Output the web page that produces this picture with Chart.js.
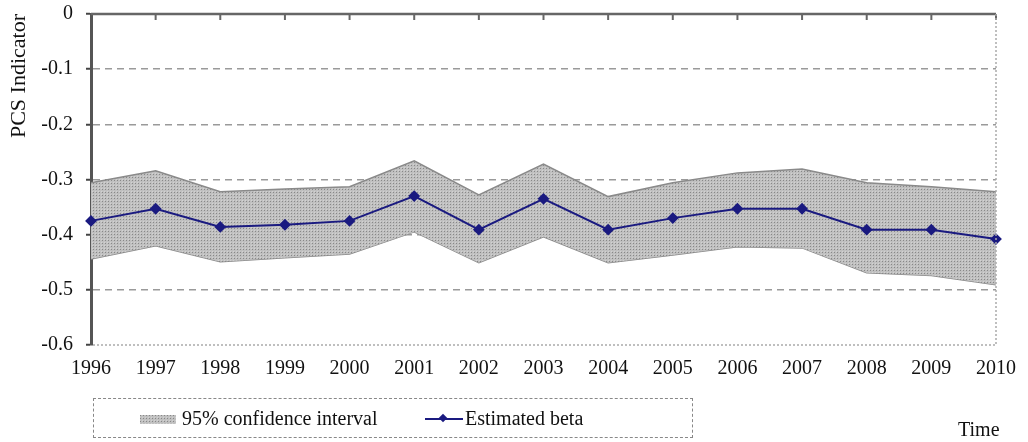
<!DOCTYPE html>
<html>
<head>
<meta charset="utf-8">
<script src="https://cdn.jsdelivr.net/npm/chart.js@4"></script>
<style>
  body { margin: 0; background: #fff; }
  #wrap { position: relative; width: 1028px; height: 442px; font-family: "Liberation Serif", "Times New Roman", serif; color: #111; }
  #grafico { position: absolute; left: 0; top: 0; }
  #legenda {
    position: absolute; left: 93px; top: 398px; width: 600px; height: 40px;
    border: 1px dashed #888; box-sizing: border-box;
    font-size: 20px; line-height: 38px;
  }
  #legenda .item { position: absolute; top: 0; white-space: nowrap; }
  #legenda .swatch { display: inline-block; width: 36px; height: 9px; vertical-align: middle; margin-right: 6px; position: relative; top: -1px; }
  #legenda .linha { display: inline-block; width: 38px; height: 2px; background: #1a1a80; vertical-align: middle; margin-right: 2px; position: relative; top: -1px; }
  #legenda .linha i { position: absolute; left: 15px; top: -3px; width: 6px; height: 6px; background: #1a1a80; transform: rotate(45deg); }
  #tempo { position: absolute; left: 958px; top: 418px; font-size: 20px; }
</style>
</head>
<body>
<div id="wrap">
  <canvas id="grafico" width="1028" height="442"></canvas>
  <div id="legenda">
    <div class="item" style="left:46px"><span class="swatch" id="swatch"></span>95% confidence interval</div>
    <div class="item" style="left:331px"><span class="linha"><i></i></span>Estimated beta</div>
  </div>
  <div id="tempo">Time</div>
</div>
<script>
// Dados
const anos = ["1996", "1997", "1998", "1999", "2000", "2001", "2002", "2003", "2004", "2005", "2006", "2007", "2008", "2009", "2010"];
const betaEstimado = [-0.375, -0.353, -0.386, -0.382, -0.375, -0.330, -0.391, -0.335, -0.391, -0.370, -0.353, -0.353, -0.391, -0.391, -0.408];
const limiteSuperior = [-0.306, -0.284, -0.322, -0.317, -0.313, -0.266, -0.328, -0.272, -0.331, -0.306, -0.288, -0.281, -0.306, -0.313, -0.322];
const limiteInferior = [-0.444, -0.420, -0.449, -0.442, -0.435, -0.395, -0.451, -0.404, -0.451, -0.437, -0.422, -0.424, -0.469, -0.474, -0.491];
const ticksY = [0, -0.1, -0.2, -0.3, -0.4, -0.5, -0.6];

// Padrão pontilhado da faixa de confiança
function criarPadrao() {
  const c = document.createElement("canvas");
  c.width = 3;
  c.height = 3;
  const g = c.getContext("2d");
  g.fillStyle = "#c0c0c0";
  g.fillRect(0, 0, 3, 3);
  g.fillStyle = "#888888";
  g.fillRect(0, 0, 1, 1);
  g.fillStyle = "#d2d2d2";
  g.fillRect(2, 2, 1, 1);
  return c;
}
const padraoCanvas = criarPadrao();
const ctx = document.getElementById("grafico").getContext("2d");
const padrao = ctx.createPattern(padraoCanvas, "repeat");

const sw = document.getElementById("swatch");
sw.style.backgroundImage = "url(" + padraoCanvas.toDataURL() + ")";

// Moldura da área do gráfico
const moldura = {
  id: "moldura",
  afterDatasetsDraw(chart) {
    const { ctx, chartArea: a } = chart;
    const x = chart.scales.x;
    ctx.save();
    ctx.strokeStyle = "#666";
    ctx.lineWidth = 2.5;
    ctx.beginPath();
    ctx.moveTo(a.left, a.top);
    ctx.lineTo(a.right, a.top);
    ctx.stroke();
    // marcas no topo
    ctx.lineWidth = 2;
    anos.forEach((ano, i) => {
      if (i === 0) return;
      const px = x.getPixelForValue(i);
      ctx.beginPath();
      ctx.moveTo(px, a.top);
      ctx.lineTo(px, a.top + 6);
      ctx.stroke();
    });
    ctx.strokeStyle = "#aaa";
    ctx.lineWidth = 1.5;
    ctx.setLineDash([2, 2]);
    ctx.beginPath();
    ctx.moveTo(a.right, a.top);
    ctx.lineTo(a.right, a.bottom);
    ctx.lineTo(a.left, a.bottom);
    ctx.stroke();
    ctx.restore();
  },
};

new Chart(ctx, {
  type: "line",
  data: {
    labels: anos,
    datasets: [
      {
        label: "Estimated beta",
        data: betaEstimado,
        borderColor: "#1a1a80",
        backgroundColor: "#1a1a80",
        borderWidth: 2,
        pointStyle: "rectRot",
        pointRadius: 4.5,
        tension: 0,
        fill: false,
        order: 0,
      },
      {
        label: "95% confidence interval",
        data: limiteSuperior,
        borderColor: "#8a8a8a",
        borderWidth: 1.5,
        pointRadius: 0,
        backgroundColor: padrao,
        fill: "+1",
        tension: 0,
        order: 1,
      },
      {
        label: "lower",
        data: limiteInferior,
        borderColor: "#8a8a8a",
        borderWidth: 1.5,
        pointRadius: 0,
        fill: false,
        tension: 0,
        order: 1,
      },
    ],
  },
  options: {
    responsive: false,
    animation: false,
    layout: { padding: { top: 14, right: 28, left: 0, bottom: 0 } },
    plugins: {
      legend: { display: false },
      tooltip: { enabled: false },
    },
    scales: {
      x: {
        offset: false,
        grid: { display: false, drawTicks: false },
        border: { display: false },
        ticks: {
          color: "#111",
          padding: 12,
          maxRotation: 0,
          autoSkip: false,
          font: { family: "Liberation Serif", size: 20 },
        },
        afterFit(scale) {
          scale.height = 97;
        },
      },
      y: {
        min: -0.6,
        max: 0,
        afterBuildTicks(scale) {
          scale.ticks = ticksY.map((v) => ({ value: v }));
        },
        grid: {
          color: (c) => (c.tick && (c.tick.value === 0 || c.tick.value === -0.6) ? "rgba(0,0,0,0)" : "#9a9a9a"),
          lineWidth: 1.5,
          tickColor: "#444",
          tickLength: 5,
          tickWidth: 2,
        },
        border: { display: true, color: "#555", width: 3, dash: [7, 5] },
        ticks: {
          color: "#111",
          padding: 13,
          font: { family: "Liberation Serif", size: 20 },
          callback: (v) => (v === 0 ? "0" : Number(v).toFixed(1)),
        },
        title: {
          display: true,
          text: "PCS Indicator",
          align: "end",
          color: "#111",
          padding: { top: 6, bottom: 0 },
          font: { family: "Liberation Serif", size: 22 },
        },
        afterFit(scale) {
          scale.width = 91;
          scale.paddingTop = 0;
          scale.paddingBottom = 0;
        },
      },
    },
  },
  plugins: [moldura],
});
</script>
</body>
</html>
